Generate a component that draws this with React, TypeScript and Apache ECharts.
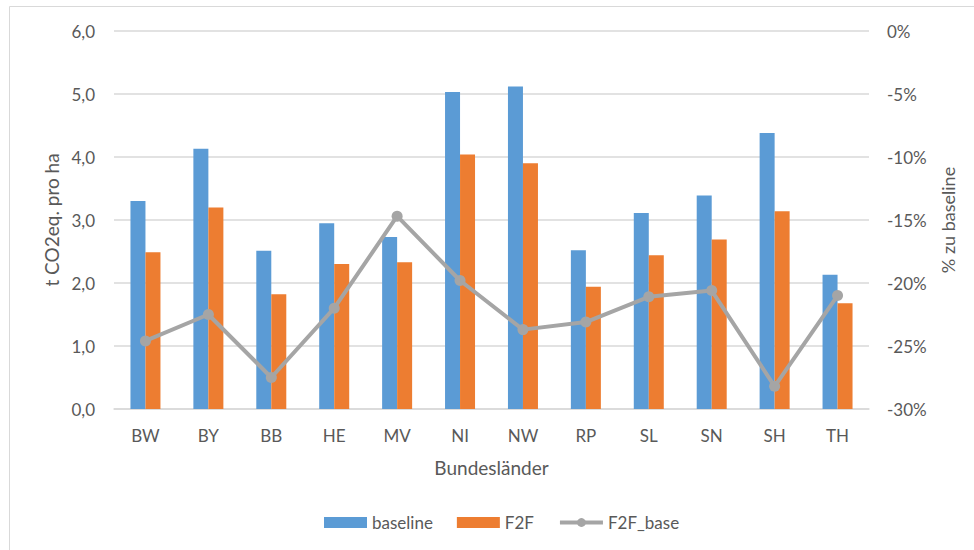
import React, { useEffect, useRef } from "react";
import * as echarts from "echarts";

const categories = ["BW", "BY", "BB", "HE", "MV", "NI", "NW", "RP", "SL", "SN", "SH", "TH"];
const baseline = [3.30, 4.13, 2.51, 2.95, 2.73, 5.03, 5.12, 2.52, 3.11, 3.39, 4.38, 2.13];
const f2f = [2.49, 3.20, 1.82, 2.30, 2.33, 4.04, 3.90, 1.94, 2.44, 2.69, 3.14, 1.68];
const f2fBase = [-24.6, -22.5, -27.5, -22.0, -14.7, -19.8, -23.7, -23.1, -21.1, -20.6, -28.2, -21.0];

const FONT = "Lato";
const TXT = "#595959";
const GRID = "#D9D9D9";

export default function App() {
  const ref = useRef<HTMLDivElement>(null);
  useEffect(() => {
    if (!ref.current) return;
    const chart = echarts.init(ref.current, undefined, { renderer: "svg" });
    chart.setOption({
      animation: false,
      backgroundColor: "#ffffff",
      textStyle: { fontFamily: FONT, color: TXT },
      graphic: [
        {
          type: "rect",
          shape: { x: 9.5, y: 6.5, width: 990, height: 580 },
          style: { fill: "none", stroke: GRID, lineWidth: 1 },
          silent: true,
          z: -10,
        },
      ],
      grid: { left: 114, right: 105, top: 31, bottom: 141, containLabel: false },
      legend: {
        bottom: 14,
        left: 319,
        itemWidth: 43,
        itemHeight: 11,
        itemGap: 24,
        textStyle: { fontFamily: FONT, fontSize: 17, color: TXT },
        data: [
          { name: "baseline", icon: "rect" },
          { name: "F2F", icon: "rect" },
          { name: "F2F_base", lineStyle: { width: 4, color: "#A5A5A5" } },
        ],
      },
      xAxis: {
        type: "category",
        data: categories,
        name: "Bundesländer",
        nameLocation: "middle",
        nameGap: 49,
        nameTextStyle: { fontFamily: FONT, fontSize: 19, color: TXT },
        axisLine: { lineStyle: { color: GRID, width: 1.5 } },
        axisTick: { show: false },
        axisLabel: { fontFamily: FONT, fontSize: 17, color: TXT, margin: 18 },
      },
      yAxis: [
        {
          type: "value",
          min: 0,
          max: 6,
          interval: 1,
          name: "t CO2eq. pro ha",
          nameLocation: "middle",
          nameRotate: 90,
          nameGap: 53,
          nameTextStyle: { fontFamily: FONT, fontSize: 19, color: TXT },
          axisLine: { show: false },
          axisTick: { show: false },
          splitLine: { lineStyle: { color: GRID, width: 1.5 } },
          axisLabel: {
            fontFamily: FONT,
            fontSize: 17,
            color: TXT,
            margin: 19,
            formatter: (v: number) => v.toFixed(1).replace(".", ","),
          },
        },
        {
          type: "value",
          min: -30,
          max: 0,
          interval: 5,
          position: "right",
          name: "% zu baseline",
          nameLocation: "middle",
          nameRotate: 90,
          nameGap: 70,
          nameTextStyle: { fontFamily: FONT, fontSize: 18, color: TXT },
          axisLine: { show: false },
          axisTick: { show: false },
          splitLine: { show: false },
          axisLabel: {
            fontFamily: FONT,
            fontSize: 17,
            color: TXT,
            margin: 18,
            formatter: (v: number) => `${v}%`,
          },
        },
      ],
      series: [
        {
          name: "baseline",
          type: "bar",
          data: baseline,
          barWidth: 15,
          barGap: "0%",
          itemStyle: { color: "#5B9BD5" },
        },
        {
          name: "F2F",
          type: "bar",
          data: f2f,
          barWidth: 15,
          barGap: "0%",
          itemStyle: { color: "#ED7D31" },
        },
        {
          name: "F2F_base",
          type: "line",
          yAxisIndex: 1,
          data: f2fBase,
          symbol: "circle",
          symbolSize: 11,
          lineStyle: { color: "#A5A5A5", width: 4 },
          itemStyle: { color: "#A5A5A5" },
          z: 5,
        },
      ],
    });
    return () => chart.dispose();
  }, []);
  return (
    <div
      ref={ref}
      style={{ position: "absolute", left: 0, top: 0, width: 974, height: 550 }}
    />
  );
}
